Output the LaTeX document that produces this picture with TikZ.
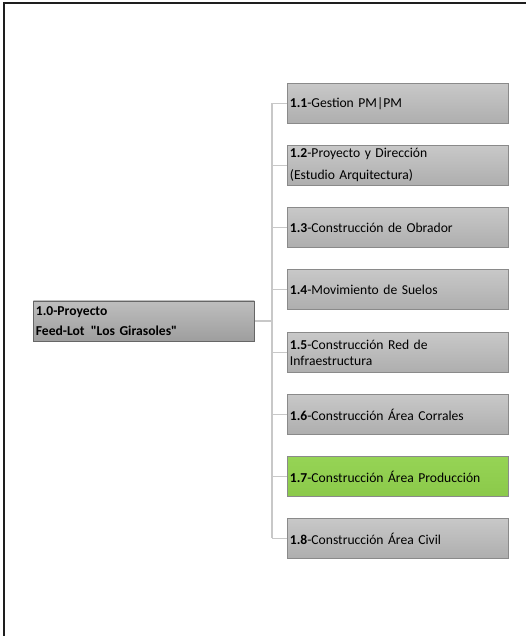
\documentclass[tikz,border=0pt]{standalone}
\usepackage{fontspec}
\setmainfont{Carlito}
\usetikzlibrary{shadings}
\definecolor{frameclr}{HTML}{1E1E1E}
\definecolor{linkclr}{HTML}{C8C8C8}
\definecolor{boxtop}{HTML}{C8C8C8}
\definecolor{boxbot}{HTML}{AEAEAE}
\definecolor{boxline}{HTML}{8A8A8A}
\definecolor{roottop}{HTML}{BEBEBE}
\definecolor{rootbot}{HTML}{9E9E9E}
\definecolor{rootline}{HTML}{666666}
\definecolor{greentop}{HTML}{96D455}
\definecolor{greenbot}{HTML}{8BC94A}
\tikzset{
  wbs/.style={draw=boxline, line width=0.8bp, top color=boxtop, bottom color=boxbot,
    anchor=north west, minimum width=221bp, minimum height=40bp,
    text width=216bp, inner xsep=2bp, inner ysep=0pt, align=left,
    font=\fontsize{13.6bp}{16bp}\selectfont},
  wbsroot/.style={wbs, draw=rootline, top color=roottop, bottom color=rootbot,
    minimum height=40bp},
  wbsdone/.style={wbs, top color=greentop, bottom color=greenbot},
  link/.style={draw=linkclr, line width=1.5bp}
}
\begin{document}
\begin{tikzpicture}[x=1bp, y=-1bp]
\useasboundingbox (0,0) rectangle (526,636);
\fill[white] (0,0) rectangle (526,636);
% outer frame (left and top edges)
\draw[frameclr, line width=2.6bp] (4,640) -- (4,3) -- (530,3);

% root node
\node[wbsroot] (root) at (33,300.5) {\textbf{1.0-Proyecto}\\[4bp]\textbf{Feed-Lot\hspace{0.45em}\textquotedbl Los Girasoles\textquotedbl}};

% child nodes
\node[wbs]     (c1) at (287,83)  {\textbf{1.1}-Gestion PM|PM};
\node[wbs]     (c2) at (287,145) {\textbf{1.2}-Proyecto y Dirección\\[6bp](Estudio Arquitectura)};
\node[wbs]     (c3) at (287,207) {\textbf{1.3}-Construcción de Obrador};
\node[wbs]     (c4) at (287,269) {\textbf{1.4}-Movimiento de Suelos};
\node[wbs]     (c5) at (287,332) {\textbf{1.5}-Construcción Red de\\Infraestructura};
\node[wbs]     (c6) at (287,394) {\textbf{1.6}-Construcción Área Corrales};
\node[wbsdone] (c7) at (287,456) {\textbf{1.7}-Construcción Área Producción};
\node[wbs]     (c8) at (287,518) {\textbf{1.8}-Construcción Área Civil};

% connectors
\coordinate (bus) at (272,320.5);
\draw[link] (root.east) -- (root.east -| bus);
\draw[link] (c1.west -| bus) -- (c8.west -| bus);
\foreach \c in {c1,c2,c3,c4,c5,c6,c7,c8}
  \draw[link] (\c.west -| bus) -- (\c.west);
\end{tikzpicture}
\end{document}
